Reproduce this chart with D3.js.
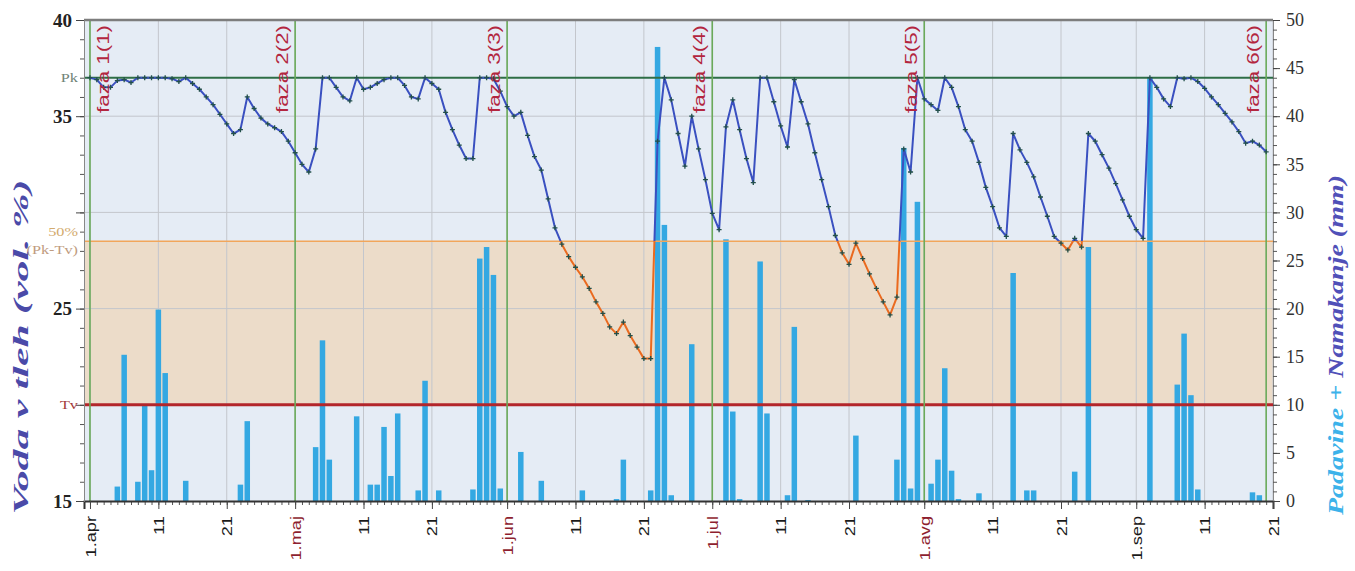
<!DOCTYPE html>
<html>
<head>
<meta charset="utf-8">
<script src="https://cdnjs.cloudflare.com/ajax/libs/d3/7.8.5/d3.min.js"></script>
<style>
  body { margin: 0; background: #fff; }
  svg { display: block; }
</style>
</head>
<body>
<div id="chart"></div>
<script>
// dnevni podatki od 1. aprila dalje (indeks = dan)
var zacetek = new Date(Date.UTC(2011, 3, 1));
var vodaVTleh = [
  37.0, 36.9, 36.5, 36.5, 36.85, 36.9, 36.75, 37.0, 37.0, 37.0,
  37.0, 37.0, 36.95, 36.8, 37.0, 36.7, 36.4, 36.0, 35.6, 35.1,
  34.6, 34.1, 34.3, 36.0, 35.4, 34.9, 34.6, 34.4, 34.2, 33.7,
  33.1, 32.5, 32.1, 33.3, 37.0, 37.0, 36.5, 36.0, 35.8, 37.0,
  36.4, 36.5, 36.7, 36.9, 37.0, 37.0, 36.6, 36.0, 35.9, 37.0,
  36.7, 36.4, 35.2, 34.3, 33.5, 32.8, 32.8, 37.0, 37.0, 36.95,
  36.3, 35.5, 35.0, 35.2, 34.0, 32.9, 32.2, 30.7, 29.2, 28.35,
  27.7, 27.15, 26.65, 26.05, 25.35, 24.75, 24.05, 23.7, 24.3, 23.6,
  23.0, 22.4, 22.4, 33.7, 37.0, 35.85, 34.1, 32.4, 35.0, 33.3,
  31.7, 29.95, 29.1, 34.45, 35.85, 34.3, 32.8, 31.55, 37.0, 37.0,
  35.75, 34.5, 33.4, 36.9, 35.75, 34.6, 33.1, 31.7, 30.3, 28.8,
  27.9, 27.3, 28.4, 27.6, 26.8, 26.05, 25.35, 24.67, 25.6, 33.3,
  32.1, 37.0, 35.9, 35.6, 35.3, 37.0, 36.5, 35.5, 34.3, 33.7,
  32.6, 31.3, 30.3, 29.2, 28.75, 34.1, 33.25, 32.6, 31.85, 30.8,
  29.8, 28.75, 28.4, 28.05, 28.65, 28.2, 34.1, 33.7, 33.0, 32.3,
  31.5, 30.65, 29.8, 29.1, 28.65, 37.0, 36.5, 35.9, 35.5, 37.0,
  36.95, 37.0, 36.8, 36.45, 36.0, 35.6, 35.15, 34.7, 34.2, 33.6,
  33.7, 33.5, 33.15
];
// padavine + namakanje (dan, mm)
var padavineDni = [4, 5, 7, 8, 9, 10, 11, 14, 22, 23, 33, 34, 35, 39, 41, 42, 43, 44, 45, 48,
  49, 51, 56, 57, 58, 59, 60, 63, 66, 72, 77, 78, 82, 83, 84, 85, 88, 93, 94, 95,
  98, 99, 102, 103, 105, 112, 118, 119, 120, 121, 123, 124, 125, 126, 127, 130, 135, 137, 138, 144,
  146, 155, 159, 160, 161, 162, 170, 171];
var padavineMm = [1.5, 15.2, 2.0, 9.9, 3.2, 19.9, 13.3, 2.1, 1.7, 8.3, 5.6, 16.7, 4.3, 8.8, 1.7, 1.7, 7.7, 2.6, 9.1, 1.1,
  12.5, 1.1, 1.2, 25.2, 26.4, 23.5, 1.3, 5.1, 2.1, 1.1, 0.2, 4.3, 1.1, 47.2, 28.7, 0.6, 16.3, 27.2, 9.3, 0.2,
  24.9, 9.1, 0.6, 18.1, 0.1, 6.8, 4.3, 36.7, 1.3, 31.1, 1.8, 4.3, 13.8, 3.15, 0.2, 0.8, 23.7, 1.1, 1.1, 3.05,
  26.4, 44.0, 12.1, 17.4, 11.0, 1.2, 0.9, 0.6];
var fazeDni = [0, 30, 61, 91, 122, 172];
var fazeOznake = ['faza 1(1)', 'faza 2(2)', 'faza 3(3)', 'faza 4(4)', 'faza 5(5)', 'faza 6(6)'];
var meseci = ['jan', 'feb', 'mar', 'apr', 'maj', 'jun', 'jul', 'avg', 'sep', 'okt', 'nov', 'dec'];
var Pk = 37, Tv = 20;
var pol = (Pk + Tv) / 2;
var levoOznake = [40, 35, 25, 15];

var W = 1355, H = 571;
var plot = { left: 84, right: 1273, top: 20, bottom: 501 };

function dan(i) { return new Date(zacetek.getTime() + i * 864e5); }
function raztegni(sel, k) {
  sel.each(function () {
    var L = this.getComputedTextLength();
    d3.select(this).attr('textLength', L * k).attr('lengthAdjust', 'spacingAndGlyphs');
  });
}

var svg = d3.select('#chart').append('svg').attr('width', W).attr('height', H);

// scales
var x = d3.scaleUtc().domain([dan(-0.875), dan(173)]).range([plot.left, plot.right]);
var yL = d3.scaleLinear().domain([15, 40]).range([plot.bottom, plot.top]);
var yR = d3.scaleLinear().domain([0, 50]).range([plot.bottom, plot.top]);
var pw = plot.right - plot.left;

// background bands
svg.append('rect').attr('x', plot.left).attr('y', yL(40)).attr('width', pw)
  .attr('height', yL(pol) - yL(40)).attr('fill', '#e5ecf5');
svg.append('rect').attr('x', plot.left).attr('y', yL(pol)).attr('width', pw)
  .attr('height', yL(Tv) - yL(pol)).attr('fill', '#ecdcc9');
svg.append('rect').attr('x', plot.left).attr('y', yL(Tv)).attr('width', pw)
  .attr('height', yL(15) - yL(Tv)).attr('fill', '#e5ecf5');

// grid
var vsiDnevi = d3.utcDay.range(dan(0), dan(174));
var glavniDnevi = vsiDnevi.filter(function (d) { var n = d.getUTCDate(); return n === 1 || n === 11 || n === 21; });
var grid = svg.append('g').attr('class', 'grid');
grid.selectAll('.gv').data(glavniDnevi).enter().append('line')
  .attr('x1', function (d) { return x(d); }).attr('x2', function (d) { return x(d); })
  .attr('y1', plot.top).attr('y2', plot.bottom)
  .attr('stroke', '#c3c6cc').attr('stroke-width', 1);
grid.selectAll('.gh').data([35, 30, 25]).enter().append('line')
  .attr('x1', plot.left).attr('x2', plot.right)
  .attr('y1', function (d) { return yL(d); }).attr('y2', function (d) { return yL(d); })
  .attr('stroke', '#c3c6cc').attr('stroke-width', 1);

// bars
var padavine = padavineDni.map(function (d, i) { return [d, padavineMm[i]]; });
svg.append('g').selectAll('.bar').data(padavine).enter().append('rect')
  .attr('class', 'bar')
  .attr('x', function (d) { return x(dan(d[0])) - 2.75; })
  .attr('y', function (d) { return yR(d[1]); })
  .attr('width', 5.5)
  .attr('height', function (d) { return yR(0) - yR(d[1]); })
  .attr('fill', '#34a8e2');

// threshold lines
svg.append('line').attr('x1', plot.left).attr('x2', plot.right).attr('y1', yL(pol)).attr('y2', yL(pol))
  .attr('stroke', '#f2a65a').attr('stroke-width', 1.6);
svg.append('line').attr('x1', plot.left).attr('x2', plot.right).attr('y1', yL(Tv)).attr('y2', yL(Tv))
  .attr('stroke', '#b3262b').attr('stroke-width', 3);
svg.append('line').attr('x1', plot.left).attr('x2', plot.right).attr('y1', yL(Pk)).attr('y2', yL(Pk))
  .attr('stroke', '#2e6e46').attr('stroke-width', 2);

// faza lines
svg.append('g').selectAll('.faza').data(fazeDni).enter().append('line')
  .attr('x1', function (d) { return x(dan(d)); }).attr('x2', function (d) { return x(dan(d)); })
  .attr('y1', plot.top).attr('y2', plot.bottom)
  .attr('stroke', '#6aaa5a').attr('stroke-width', 1.6);

// frame
svg.append('line').attr('x1', plot.left).attr('x2', plot.right).attr('y1', plot.top).attr('y2', plot.top)
  .attr('stroke', '#7d7d7d').attr('stroke-width', 2.5);

// x axis (minor days + labelled 1/11/21)
var serif = '"Liberation Serif", "DejaVu Serif", serif';
var sans = '"Liberation Sans", Arial, sans-serif';
svg.append('g').attr('transform', 'translate(0,' + plot.bottom + ')')
  .call(d3.axisBottom(x).tickValues(vsiDnevi).tickSize(4).tickFormat(''))
  .call(function (g) { g.selectAll('line').attr('stroke', '#555'); g.select('.domain').remove(); });
var xAxis = svg.append('g').attr('transform', 'translate(0,' + plot.bottom + ')')
  .call(d3.axisBottom(x).tickValues(glavniDnevi).tickSize(8)
    .tickFormat(function (d) { return d.getUTCDate() === 1 ? '1.' + meseci[d.getUTCMonth()] : d.getUTCDate(); }));
xAxis.select('.domain').attr('stroke', '#333').attr('stroke-width', 2);
xAxis.selectAll('line').attr('stroke', '#444');
xAxis.selectAll('text')
  .attr('transform', 'rotate(-90)').attr('x', -15).attr('y', 0).attr('dy', '0.36em')
  .style('text-anchor', 'end').style('font-family', sans).style('font-size', '14px')
  .attr('fill', function (d) { var m = d.getUTCMonth(); return d.getUTCDate() === 1 && m >= 4 && m <= 7 ? '#8e1f2f' : '#1a1a1a'; })
  .call(raztegni, 1.3);

// left axis
svg.append('g').attr('transform', 'translate(' + plot.left + ',0)')
  .call(d3.axisLeft(yL).ticks(25).tickSize(4).tickFormat(''))
  .call(function (g) { g.selectAll('line').attr('stroke', '#555'); g.select('.domain').attr('stroke', '#888'); });
var yAxisL = svg.append('g').attr('transform', 'translate(' + plot.left + ',0)')
  .call(d3.axisLeft(yL).tickValues([15, 20, 25, 30, 35, 40]).tickSize(8).tickPadding(4)
    .tickFormat(function (d) { return levoOznake.indexOf(d) >= 0 ? d : ''; }));
yAxisL.select('.domain').remove();
yAxisL.selectAll('line').attr('stroke', '#444');
yAxisL.selectAll('text').style('font-family', serif).style('font-size', '19px')
  .style('font-weight', 'bold').attr('fill', '#222');

// right axis
svg.append('g').attr('transform', 'translate(' + plot.right + ',0)')
  .call(d3.axisRight(yR).ticks(50).tickSize(4).tickFormat(''))
  .call(function (g) { g.selectAll('line').attr('stroke', '#555'); g.select('.domain').attr('stroke', '#888'); });
var yAxisR = svg.append('g').attr('transform', 'translate(' + plot.right + ',0)')
  .call(d3.axisRight(yR).tickValues(d3.range(0, 51, 5)).tickSize(7).tickPadding(6));
yAxisR.select('.domain').remove();
yAxisR.selectAll('line').attr('stroke', '#444');
yAxisR.selectAll('text').style('font-family', serif).style('font-size', '18px').attr('fill', '#333');

// threshold labels
function oznaka(t, y, barva) {
  return svg.append('text').attr('x', plot.left - 6).attr('y', y).text(t)
    .attr('text-anchor', 'end').style('font-family', serif).style('font-size', '13px').attr('fill', barva)
    .call(raztegni, 1.25);
}
oznaka('Pk', yL(Pk) + 4.5, '#6f8377');
oznaka('50%', yL(pol) - 5, '#d3ab6e');
oznaka('(Pk-Tv)', yL(pol) + 13, '#bf9c80');
oznaka('Tv', yL(Tv) + 4.5, '#a23a3a');

// soil water line, blue above 50% and orange inside the band
var line = d3.line()
  .x(function (d, i) { return x(dan(i)); })
  .y(function (d) { return yL(d); });
var defs = svg.append('defs');
defs.append('clipPath').attr('id', 'nad').append('rect')
  .attr('x', plot.left).attr('y', plot.top).attr('width', pw).attr('height', yL(pol) - plot.top);
defs.append('clipPath').attr('id', 'pod').append('rect')
  .attr('x', plot.left).attr('y', yL(pol)).attr('width', pw).attr('height', plot.bottom - yL(pol));
svg.append('path').datum(vodaVTleh).attr('d', line).attr('clip-path', 'url(#nad)')
  .attr('fill', 'none').attr('stroke', '#3a50c0').attr('stroke-width', 2).attr('stroke-linejoin', 'round');
svg.append('path').datum(vodaVTleh).attr('d', line).attr('clip-path', 'url(#pod)')
  .attr('fill', 'none').attr('stroke', '#ea6a1f').attr('stroke-width', 2).attr('stroke-linejoin', 'round');
svg.append('g').selectAll('.tocka').data(vodaVTleh).enter().append('path')
  .attr('class', 'tocka')
  .attr('d', function (d, i) {
    var px = x(dan(i)), py = yL(d);
    return 'M' + (px - 2.5) + ',' + py + 'h5M' + px + ',' + (py - 2.5) + 'v5';
  })
  .attr('stroke', '#23504a').attr('stroke-width', 1.3);

// faza labels
svg.append('g').selectAll('.fazaTxt').data(fazeDni).enter().append('text')
  .attr('transform', function (d, i) {
    var bx = i === 0 ? x(dan(d)) + 19 : x(dan(d)) - 7;
    return 'translate(' + bx + ',25) rotate(-90)';
  })
  .attr('text-anchor', 'end')
  .attr('textLength', 88).attr('lengthAdjust', 'spacingAndGlyphs')
  .style('font-family', sans).style('font-size', '16px').attr('fill', '#b3263f')
  .text(function (d, i) { return fazeOznake[i]; });

// axis titles
svg.append('text').attr('transform', 'translate(28,347) rotate(-90)')
  .attr('text-anchor', 'middle').attr('textLength', 335).attr('lengthAdjust', 'spacingAndGlyphs')
  .style('font-family', serif).style('font-size', '22px').style('font-weight', 'bold').style('font-style', 'italic')
  .attr('fill', '#4a4aa8').text('Voda v tleh (vol. %)');
var rt = svg.append('text').attr('transform', 'translate(1343,345) rotate(-90)')
  .attr('text-anchor', 'middle').attr('textLength', 340).attr('lengthAdjust', 'spacingAndGlyphs')
  .style('font-family', serif).style('font-size', '22px').style('font-weight', 'bold').style('font-style', 'italic');
rt.append('tspan').attr('fill', '#3cb2ea').text('Padavine + ');
rt.append('tspan').attr('fill', '#5050b8').text('Namakanje (mm)');
</script>
</body>
</html>
